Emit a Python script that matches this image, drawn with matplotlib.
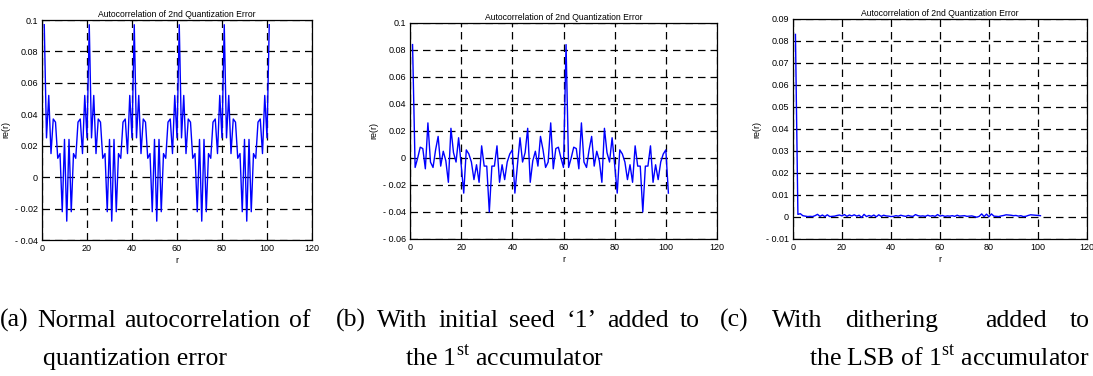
import matplotlib
matplotlib.use("Agg")
import matplotlib.pyplot as plt
import numpy as np

# lag axis r = 1..101
r = list(range(1, 102))

# (a) normal autocorrelation of quantization error
re_a = [0.097, 0.025, 0.052, 0.015, 0.037, 0.035, 0.012, 0.015, -0.022, 0.024,
        -0.028, 0.024, -0.022, 0.015, 0.012, 0.035, 0.037, 0.015, 0.052, 0.025,
        0.097, 0.025, 0.052, 0.015, 0.037, 0.035, 0.012, 0.015, -0.022, 0.024,
        -0.028, 0.024, -0.022, 0.015, 0.012, 0.035, 0.037, 0.015, 0.052, 0.025,
        0.097, 0.025, 0.052, 0.015, 0.037, 0.035, 0.012, 0.015, -0.022, 0.024,
        -0.028, 0.024, -0.022, 0.015, 0.012, 0.035, 0.037, 0.015, 0.052, 0.025,
        0.097, 0.025, 0.052, 0.015, 0.037, 0.035, 0.012, 0.015, -0.022, 0.024,
        -0.028, 0.024, -0.022, 0.015, 0.012, 0.035, 0.037, 0.015, 0.052, 0.025,
        0.097, 0.025, 0.052, 0.015, 0.037, 0.035, 0.012, 0.015, -0.022, 0.024,
        -0.028, 0.024, -0.022, 0.015, 0.012, 0.035, 0.037, 0.015, 0.052, 0.025,
        0.097]

# (b) with initial seed '1' added to the 1st accumulator
re_b = [0.084, -0.007, 0.000, 0.008, 0.007, -0.008, 0.026, -0.003, -0.007, 0.006,
        0.016, -0.006, 0.005, -0.002, -0.018, 0.022, 0.004, -0.003, 0.015, -0.005,
        -0.026, 0.006, 0.003, -0.003, -0.016, -0.005, -0.018, 0.009, -0.006, -0.006,
        -0.040, -0.006, -0.006, 0.009, -0.018, -0.005, -0.016, -0.003, 0.003, 0.006,
        -0.026, -0.005, 0.015, -0.003, 0.004, 0.022, -0.018, -0.002, 0.005, -0.006,
        0.016, 0.006, -0.007, -0.003, 0.026, -0.008, 0.007, 0.008, 0.000, -0.007,
        0.084, -0.007, 0.000, 0.008, 0.007, -0.008, 0.026, -0.003, -0.007, 0.006,
        0.016, -0.006, 0.005, -0.002, -0.018, 0.022, 0.004, -0.003, 0.015, -0.005,
        -0.026, 0.006, 0.003, -0.003, -0.016, -0.005, -0.018, 0.009, -0.006, -0.006,
        -0.040, -0.006, -0.006, 0.009, -0.018, -0.005, -0.016, -0.003, 0.003, 0.006,
        -0.026]

# (c) with dithering added to the LSB of the 1st accumulator
re_c = [0.083, 0.0012, 0.0015, 0.0006, 0.0004, 0.0002, 0.0003, 0.0002, 0.0006, 0.0012,
        0.0003, 0.0009, 0.0002, 0.0010, 0.0002, 0.0003, 0.0004, 0.0007, 0.0009, 0.0005,
        0.0011, 0.0003, 0.0009, 0.0005, 0.0010, 0.0004, 0.0008, -0.0002, 0.0012, 0.0002,
        0.0007, 0.0003, 0.0009, 0.0001, 0.0010, 0.0003, 0.0008, 0.0005, 0.0004, 0.0002,
        0.0003, 0.0006, 0.0004, 0.0008, 0.0005, 0.0003, 0.0007, 0.0004, 0.0003, 0.0011,
        0.0006, 0.0004, 0.0005, 0.0003, 0.0008, 0.0004, 0.0006, 0.0003, 0.0011, 0.0004,
        0.0007, 0.0003, 0.0005, 0.0004, 0.0006, 0.0003, 0.0008, 0.0004, 0.0005, 0.0006,
        0.0003, 0.0004, 0.0005, 0.0002, -0.0001, 0.0003, 0.0014, 0.0002, 0.0013, 0.0001,
        0.0014, 0.0004, 0.0003, 0.0002, 0.0005, 0.0007, 0.0010, 0.0009, 0.0008, 0.0006,
        0.0007, 0.0004, 0.0006, 0.0002, 0.0003, 0.0007, 0.0010, 0.0009, 0.0008, 0.0007,
        0.0006]

yticks_a = [-0.04, -0.02, 0, 0.02, 0.04, 0.06, 0.08, 0.1]
yticks_b = [-0.06, -0.04, -0.02, 0, 0.02, 0.04, 0.06, 0.08, 0.1]
yticks_c = [-0.01, 0, 0.01, 0.02, 0.03, 0.04, 0.05, 0.06, 0.07, 0.08, 0.09]
xticks = [0, 20, 40, 60, 80, 100, 120]

captions_1 = [['(a)', 'Normal', 'autocorrelation', 'of'],
              ['(b)', 'With', 'initial', 'seed', '\u20181\u2019', 'added', 'to'],
              ['(c)', 'With', 'dithering', 'added', 'to']]
captions_2 = ['quantization error',
              'the 1$^{\\mathrm{st}}$ accumulator',
              'the LSB of 1$^{\\mathrm{st}}$ accumulator']

W, H = 1093, 376
plt.rcParams['mathtext.fontset'] = 'custom'
plt.rcParams['mathtext.rm'] = 'Liberation Serif'
fig = plt.figure(figsize=(W / 100, H / 100), dpi=100)

sans = 'Liberation Sans'
serif = 'Liberation Serif'


def px_axes(left, right, top, bottom):
    return fig.add_axes([left / W, 1 - bottom / H, (right - left) / W, (bottom - top) / H])


def fmt(v):
    s = '%g' % v
    return s.replace('-', '- ')


def setup(ax, y, yticks):
    ax.plot(r, y, color='#0000ff', lw=1.0)
    ax.set_xlim(0, 120)
    ax.set_ylim(yticks[0], yticks[-1])
    ax.set_xticks(xticks)
    ax.set_xticklabels([fmt(t) for t in xticks], fontsize=6.5, family=sans)
    ax.set_yticks(yticks)
    ax.set_yticklabels([fmt(t) for t in yticks], fontsize=6.5, family=sans)
    ax.tick_params(direction='in', length=3, width=0.6, top=True, right=True, pad=3)
    ax.grid(True, color='k', linestyle=(0, (6, 4)), linewidth=0.9)
    for s in ax.spines.values():
        s.set_linewidth(0.9)
    ax.set_title('Autocorrelation of 2nd Quantization Error', fontsize=6.2, family=sans, pad=2)
    ax.set_xlabel('r', fontsize=6.5, family=sans, labelpad=2)
    ax.set_ylabel('re(r)', fontsize=6.5, family=sans, labelpad=3)


ax1 = px_axes(42, 312, 20, 240)
setup(ax1, re_a, yticks_a)
ax2 = px_axes(410, 717, 23, 239)
setup(ax2, re_b, yticks_b)
ax3 = px_axes(793, 1087, 19, 239)
setup(ax3, re_c, yticks_c)

# captions: first line justified over its column, second line plain
cap = dict(fontsize=18.5, family=serif, va='baseline', ha='left')
renderer = fig.canvas.get_renderer()


def justify(words, x0, x1, ybase, weights=None):
    items = [fig.text(0, 1 - ybase / H, w, **cap) for w in words]
    widths = [t.get_window_extent(renderer).width for t in items]
    if weights is None:
        weights = [1] * (len(words) - 1)
    unit = (x1 - x0 - sum(widths)) / sum(weights)
    x = x0
    for i, (t, w) in enumerate(zip(items, widths)):
        t.set_x(x / W)
        if i < len(weights):
            x += w + unit * weights[i]


justify(captions_1[0], 0, 310, 327)
justify(captions_1[1], 336, 700, 327)
justify(captions_1[2], 720, 1090, 327, weights=[1, 1, 2, 1])
fig.text(43 / W, 1 - 365 / H, captions_2[0], **cap)
fig.text(405 / W, 1 - 365 / H, captions_2[1], **cap)
fig.text(1090 / W, 1 - 365 / H, captions_2[2], **dict(cap, ha='right'))

fig.savefig('out.png', dpi=100)
